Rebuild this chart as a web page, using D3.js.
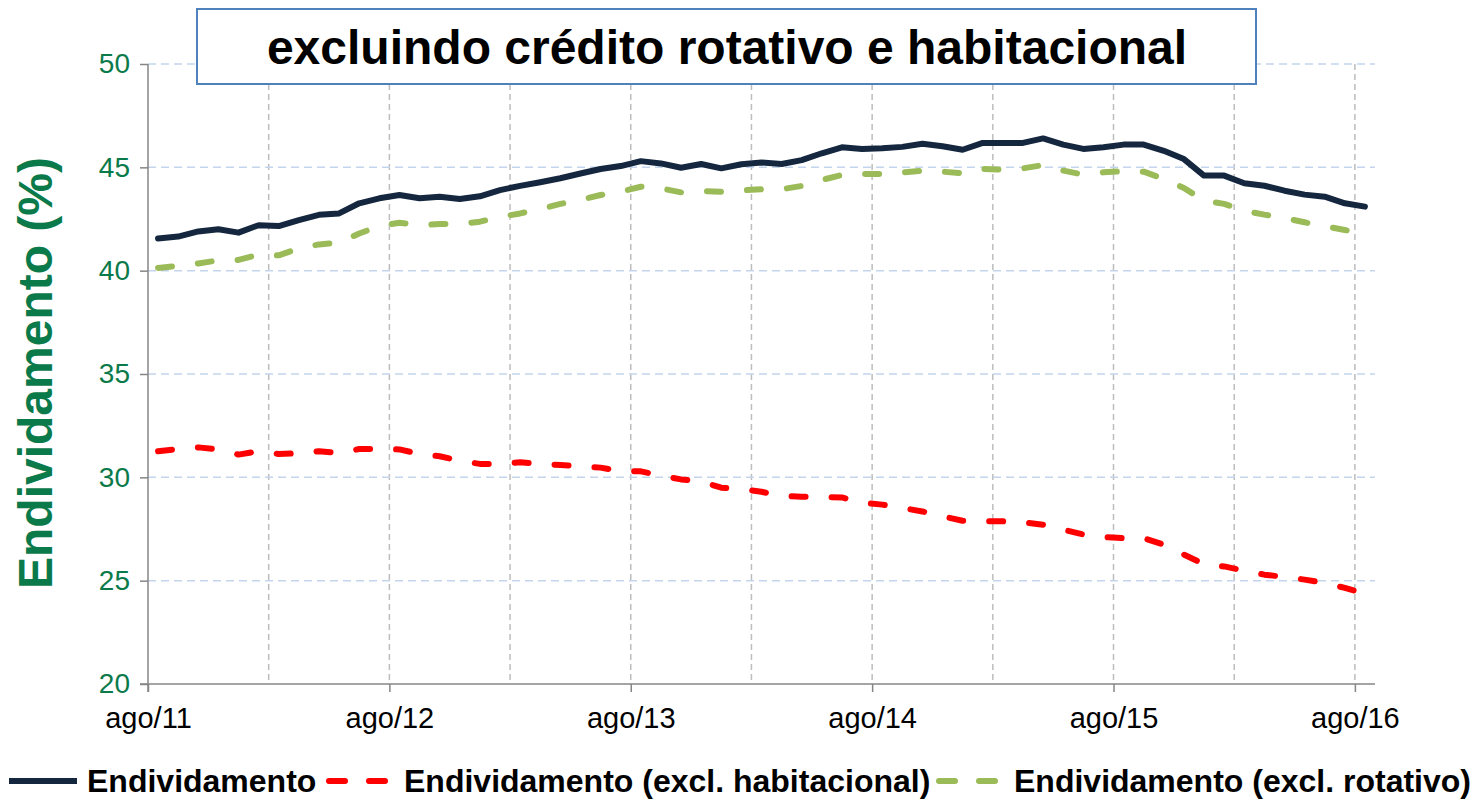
<!DOCTYPE html>
<html>
<head>
<meta charset="utf-8">
<script src="https://cdn.jsdelivr.net/npm/d3@7"></script>
<style>
  body { margin: 0; background: #fff; }
  text { font-family: Arial, "Liberation Sans", sans-serif; }
</style>
</head>
<body>
<script>
// monthly series, ago/11 .. ago/16 (61 months)
var endividamento = [41.56, 41.65, 41.9, 42.0, 41.84, 42.2, 42.16, 42.45, 42.7, 42.77, 43.26, 43.5,
  43.66, 43.5, 43.58, 43.47, 43.6, 43.9, 44.1, 44.28, 44.47, 44.7, 44.92, 45.06,
  45.3, 45.19, 44.98, 45.16, 44.95, 45.15, 45.23, 45.16, 45.35, 45.68, 45.97, 45.89,
  45.92, 45.99, 46.14, 46.02, 45.85, 46.18, 46.18, 46.18, 46.4, 46.1, 45.89, 45.97,
  46.1, 46.1, 45.8, 45.4, 44.6, 44.6, 44.23, 44.11, 43.87, 43.68, 43.58, 43.26, 43.1];

var exclHabitacional = [31.26, 31.37, 31.45, 31.35, 31.1, 31.26, 31.13, 31.16, 31.26, 31.18, 31.37, 31.37,
  31.35, 31.13, 31.02, 30.8, 30.65, 30.65, 30.73, 30.65, 30.6, 30.53, 30.47, 30.29,
  30.29, 30.08, 29.9, 29.8, 29.5, 29.43, 29.3, 29.1, 29.06, 29.05, 29.03, 28.77,
  28.68, 28.52, 28.35, 28.11, 27.9, 27.87, 27.87, 27.82, 27.71, 27.47, 27.23, 27.11,
  27.06, 27.06, 26.74, 26.26, 25.8, 25.69, 25.48, 25.29, 25.18, 25.05, 24.89, 24.65, 24.37];

var exclRotativo = [40.13, 40.24, 40.35, 40.5, 40.52, 40.77, 40.74, 41.08, 41.27, 41.35, 41.8, 42.16,
  42.32, 42.2, 42.26, 42.26, 42.37, 42.6, 42.77, 42.98, 43.23, 43.42, 43.66, 43.82,
  44.06, 43.98, 43.79, 43.85, 43.82, 43.89, 43.94, 43.94, 44.1, 44.39, 44.63, 44.68,
  44.68, 44.75, 44.84, 44.79, 44.71, 44.92, 44.89, 44.95, 45.11, 44.84, 44.65, 44.76,
  44.81, 44.79, 44.44, 44.0, 43.39, 43.23, 42.9, 42.71, 42.55, 42.34, 42.15, 41.97, 41.77];

var tickLabels = ["ago/11", "ago/12", "ago/13", "ago/14", "ago/15", "ago/16"];
var yTicks = [20, 25, 30, 35, 40, 45, 50];
var seriesNames = ["Endividamento", "Endividamento (excl. habitacional)", "Endividamento (excl. rotativo)"];
var seriesColors = ["#14273f", "#ff0000", "#9bbb59"];

var width = 1473, height = 802;
var margin = {left: 148, right: 1375, top: 64, bottom: 684};

var svg = d3.select("body").append("svg")
  .attr("width", width)
  .attr("height", height);

// month index scale, points sit in the middle of each month
var x = d3.scaleLinear().domain([0, 61]).range([margin.left, margin.right]);
var y = d3.scaleLinear().domain([20, 50]).range([margin.bottom, margin.top]);

// gridlines
svg.append("g").selectAll("line")
  .data(d3.range(6, 61, 6))
  .enter().append("line")
  .attr("x1", function(d) { return x(d); })
  .attr("x2", function(d) { return x(d); })
  .attr("y1", y(50))
  .attr("y2", y(20))
  .attr("stroke", "#bdbdbd")
  .attr("stroke-width", 1.5)
  .attr("stroke-dasharray", "6,4");

svg.append("g").selectAll("line")
  .data(yTicks.slice(1))
  .enter().append("line")
  .attr("x1", margin.left)
  .attr("x2", margin.right)
  .attr("y1", function(d) { return y(d); })
  .attr("y2", function(d) { return y(d); })
  .attr("stroke", "#c3d5ec")
  .attr("stroke-width", 1.5)
  .attr("stroke-dasharray", "8,5");

// axes
var yAxis = svg.append("g")
  .attr("transform", "translate(" + margin.left + ",0)")
  .call(d3.axisLeft(y).tickValues(yTicks).tickSize(8).tickPadding(10));
yAxis.select(".domain").attr("d", "M0," + margin.top + "V" + (margin.bottom + 8));

var xAxis = svg.append("g")
  .attr("transform", "translate(0," + margin.bottom + ")")
  .call(d3.axisBottom(x).tickValues(d3.range(0, 61, 12))
    .tickFormat(function(d, i) { return tickLabels[i]; })
    .tickSize(8).tickPadding(15));
xAxis.select(".domain").attr("d", "M" + (margin.left - 8) + ",0H" + margin.right);

svg.selectAll(".domain, .tick line").attr("stroke", "#868686").attr("stroke-width", 1.5);
yAxis.selectAll(".tick text").attr("fill", "#0b7a4b").style("font-size", "28px")
  .style("font-family", "Arial, 'Liberation Sans', sans-serif");
xAxis.selectAll(".tick text").attr("fill", "#000").style("font-size", "29px")
  .style("font-family", "Arial, 'Liberation Sans', sans-serif");

// y title
svg.append("text")
  .attr("transform", "translate(52,373) rotate(-90)")
  .style("text-anchor", "middle")
  .style("font-size", "48px")
  .style("font-weight", "bold")
  .attr("fill", "#0b7a4b")
  .text("Endividamento (%)");

// lines
var line = d3.line()
  .x(function(d, i) { return x(i + 0.5); })
  .y(function(d) { return y(d); });

var dashes = [null, "14,26", "14,26"];
[endividamento, exclHabitacional, exclRotativo].forEach(function(s, k) {
  svg.append("path")
    .attr("fill", "none")
    .attr("stroke", seriesColors[k])
    .attr("stroke-width", 6)
    .attr("stroke-linecap", "round")
    .attr("stroke-linejoin", "round")
    .attr("stroke-dasharray", dashes[k])
    .attr("d", line(s));
});

// title box
svg.append("rect")
  .attr("x", 197).attr("y", 9)
  .attr("width", 1059).attr("height", 75)
  .attr("fill", "#fff")
  .attr("stroke", "#4f81bd")
  .attr("stroke-width", 2);

svg.append("text")
  .attr("x", 727).attr("y", 64)
  .style("text-anchor", "middle")
  .style("font-size", "48px")
  .style("font-weight", "bold")
  .text("excluindo crédito rotativo e habitacional");

// legend
var legendX = [9, 326, 936];
var legend = svg.append("g");
seriesNames.forEach(function(name, k) {
  legend.append("line")
    .attr("x1", legendX[k]).attr("x2", legendX[k] + 68)
    .attr("y1", 781).attr("y2", 781)
    .attr("stroke", seriesColors[k])
    .attr("stroke-width", 6)
    .attr("stroke-linecap", k == 0 ? "butt" : "round")
    .attr("stroke-dasharray", k == 0 ? null : "16,24")
    .attr("transform", k == 0 ? null : "translate(3,0)");
  legend.append("text")
    .attr("x", legendX[k] + 78).attr("y", 792)
    .style("font-size", "32px")
    .style("font-weight", "bold")
    .text(name);
});
</script>
</body>
</html>
